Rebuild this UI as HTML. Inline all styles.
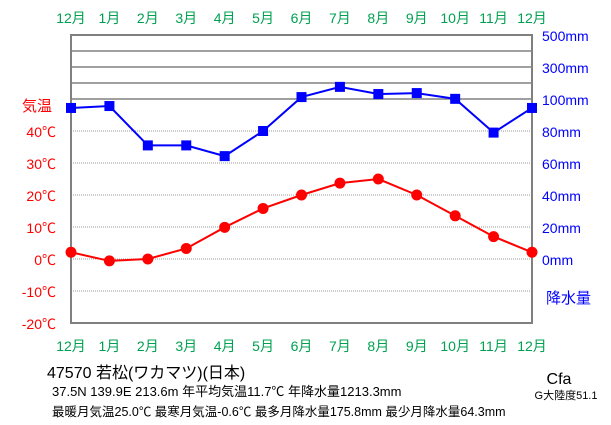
<!DOCTYPE html>
<html><head><meta charset="utf-8"><style>
body{margin:0;background:#fff;}
svg{display:block;font-family:"Liberation Sans","Noto Sans CJK JP",sans-serif;}
</style></head><body>
<svg id="c" width="611" height="425"></svg>
<script>
const months=["12月","1月","2月","3月","4月","5月","6月","7月","8月","9月","10月","11月","12月"];
const temps=[2.1,-0.6,0.0,3.3,9.9,15.8,20.0,23.7,25.0,20.0,13.5,7.0,2.1];
const precip=[94.4,95.6,71,71,64.3,80,112,175.8,131,137,101,79,94.4];
const tempTicks=[40,30,20,10,0,-10,-20];
const precipTicks=[0,20,40,60,80,100,300,500];
const NS="http://www.w3.org/2000/svg";
const svg=document.getElementById('c');
const L=71,R=532,T=35,B=323;
const x=i=>L+i*(R-L)/12;
const yT=t=>259-t*3.2;
const yP=p=>p<=100?259-p*1.6:99-(p-100)*0.16;
function el(t,a,txt){const e=document.createElementNS(NS,t);for(const k in a)e.setAttribute(k,a[k]);if(txt!==undefined)e.textContent=txt;svg.appendChild(e);return e;}
for(const t of [40,30,20,10,0,-10]){const g=el('line',{x1:L,x2:R,y1:yT(t),y2:yT(t),stroke:'#999','stroke-dasharray':'1,1','stroke-width':1});

}
for(const p of [100,200,300,400]){const g=el('line',{x1:L,x2:R,y1:yP(p),y2:yP(p),stroke:'#808080','stroke-width':1.5});

}
const fr=el('rect',{x:L,y:T,width:R-L,height:B-T,fill:'none',stroke:'#808080','stroke-width':2});


months.forEach((m,i)=>{for(const yy of [23,351]){const t=el('text',{x:x(i),y:yy,'text-anchor':'middle','font-size':14,fill:'#00a050'},m);

}});
tempTicks.forEach(v=>{const t=el('text',{x:56,y:yT(v)+6,'text-anchor':'end','font-size':14,fill:'#f00'},v+'℃');

});
{const t=el('text',{x:22,y:111,'font-size':15,fill:'#f00'},'気温');

}
precipTicks.forEach(v=>{const t=el('text',{x:542,y:yP(v)+6,'font-size':14,fill:'#00f'},v+'mm');

});
{const t=el('text',{x:546,y:303,'font-size':15,fill:'#00f'},'降水量');

}
const pl=el('polyline',{points:precip.map((p,i)=>x(i)+','+yP(p)).join(' '),fill:'none',stroke:'#00f','stroke-width':2});


precip.forEach((p,i)=>{const r=el('rect',{x:x(i)-5,y:yP(p)-5,width:10,height:10,fill:'#00f'});

});
const tl=el('polyline',{points:temps.map((t,i)=>x(i)+','+yT(t)).join(' '),fill:'none',stroke:'#f00','stroke-width':2});


temps.forEach((t,i)=>{const c=el('circle',{cx:x(i),cy:yT(t),r:5.5,fill:'#f00'});

});
const info=[[47,378,16,'47570  若松(ワカマツ)(日本)','station-title'],[52,396,13,'37.5N  139.9E  213.6m  年平均気温11.7℃  年降水量1213.3mm','station-info'],[52,416,12.5,'最暖月気温25.0℃ 最寒月気温-0.6℃ 最多月降水量175.8mm 最少月降水量64.3mm','station-extremes']];
info.forEach(a=>{const t=el('text',{x:a[0],y:a[1],'font-size':a[2],fill:'#000'},a[3]);

});
{const t=el('text',{x:559,y:384,'font-size':16,'text-anchor':'middle'},'Cfa');

}
{const t=el('text',{x:566,y:399,'font-size':11,'text-anchor':'middle'},'G大陸度51.1');

}
</script>
</body></html>
